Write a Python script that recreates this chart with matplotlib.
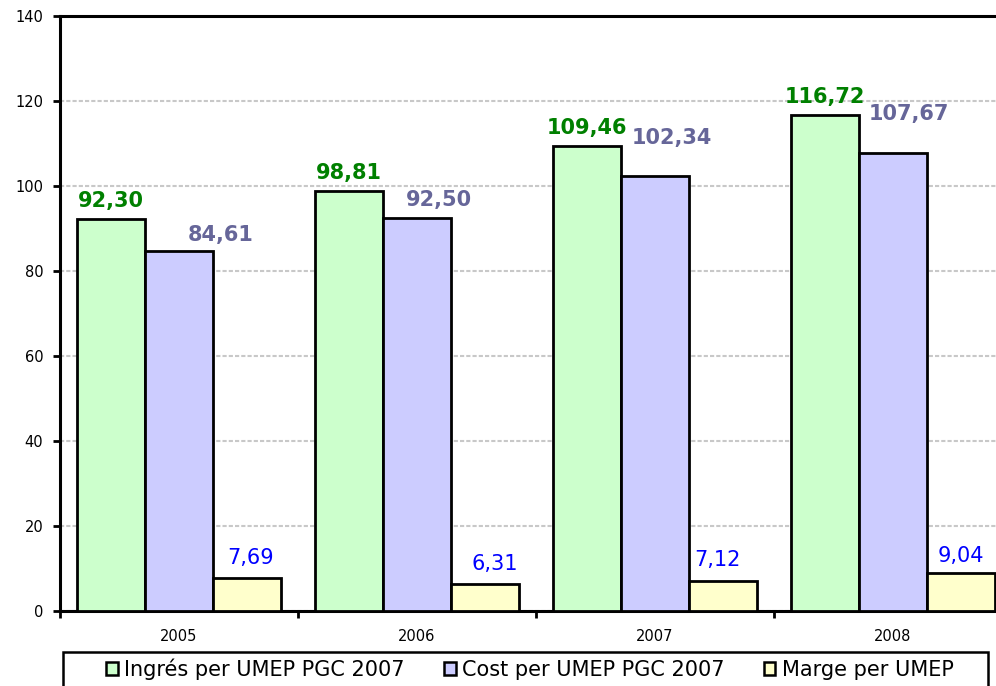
import matplotlib
matplotlib.use("Agg")
import matplotlib.pyplot as plt
import numpy as np
from matplotlib.patches import Patch, Rectangle

years = ["2005", "2006", "2007", "2008"]
ingres = [92.30, 98.81, 109.46, 116.72]
cost = [84.61, 92.50, 102.34, 107.67]
marge = [7.69, 6.31, 7.12, 9.04]
series_names = ["Ingrés per UMEP PGC 2007", "Cost per UMEP PGC 2007", "Marge per UMEP"]

# label offsets in pixels (dx, dy above bar top)
ingres_off = [(0, 12), (0, 12), (0, 12), (0, 12)]
cost_off = [(42, 10), (22, 12), (17, 32), (16, 33)]
marge_off = [(4, 14), (10, 14), (-6, 15), (0, 11)]

fill_colors = ["#CCFFCC", "#CCCCFF", "#FFFFCC"]
label_colors = ["#008000", "#666699", "#0000FF"]
label_weights = ["bold", "bold", "normal"]

W, H = 996, 686
fig = plt.figure(figsize=(W / 100, H / 100), dpi=100)
ax = fig.add_axes([60 / W, (H - 611) / H, 952 / W, 595 / H])

x = np.arange(len(years))
bw = 68 / 238
px2pt = 72 / 100

for i, (vals, offs) in enumerate(zip([ingres, cost, marge], [ingres_off, cost_off, marge_off])):
    pos = x + (i - 1) * bw
    ax.bar(pos, vals, width=bw, color=fill_colors[i], edgecolor="black",
           linewidth=2.0, zorder=3)
    for p, v, (dx, dy) in zip(pos, vals, offs):
        ax.annotate(f"{v:.2f}".replace(".", ","), (p, v),
                    xytext=(dx * px2pt, dy * px2pt), textcoords="offset points",
                    ha="center", va="baseline", fontsize=15,
                    fontweight=label_weights[i], color=label_colors[i],
                    zorder=5, annotation_clip=False)

ax.set_xlim(-0.5, 3.5)
ax.set_ylim(0, 140)
ax.set_yticks(np.arange(0, 141, 20))
ax.yaxis.grid(True, color="#C8C8C8", linestyle=(0, (2, 1)), linewidth=1.5, zorder=0)
ax.set_axisbelow(True)

ax.set_xticks(np.arange(-0.5, 3.6, 1))
ax.set_xticklabels([])
ax.set_xticks(x, minor=True)
ax.set_xticklabels(years, minor=True)
ax.tick_params(axis="x", which="minor", length=0, pad=13, labelsize=10.5)
ax.tick_params(axis="x", which="major", length=5, width=2, direction="out")
ax.tick_params(axis="y", length=5, width=2, direction="out", labelsize=10.5, pad=7)

for s in ["left", "top", "bottom"]:
    ax.spines[s].set_linewidth(2.2)
    ax.spines[s].set_color("black")
ax.spines["right"].set_visible(False)

# legend frame (extends beyond the bottom edge, as in the reference)
fig.patches.append(Rectangle((63 / W, -0.05), (988 - 63) / W, 0.05 + (H - 652) / H,
                             transform=fig.transFigure, facecolor="white",
                             edgecolor="black", linewidth=1.8, zorder=1))

handles = [Patch(facecolor=c, edgecolor="black", linewidth=1.8) for c in fill_colors]
leg = fig.legend(handles, series_names, loc="center",
                 bbox_to_anchor=(530 / W, 1 - 669 / H),
                 ncol=3, fontsize=15, frameon=False,
                 handlelength=0.55, handleheight=0.55,
                 handletextpad=0.3, columnspacing=1.9, borderpad=0)
leg.set_zorder(2)

fig.savefig("out.png", dpi=100)
